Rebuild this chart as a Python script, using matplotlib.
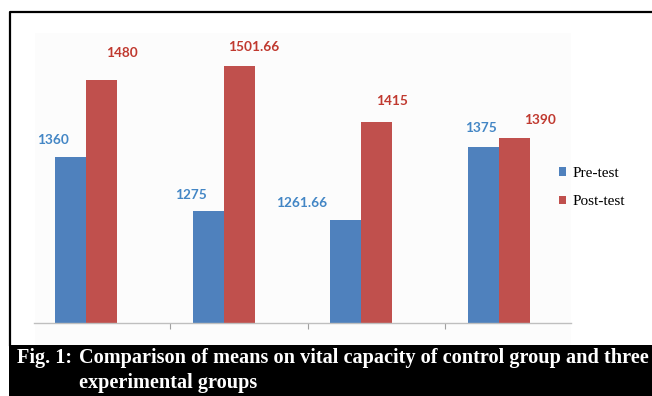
import numpy as np
import matplotlib.pyplot as plt
from matplotlib.patches import Rectangle
from matplotlib.lines import Line2D

# data
groups = ["Control", "Exp. 1", "Exp. 2", "Exp. 3"]
pre_test = [1360, 1275, 1261.66, 1375]
post_test = [1480, 1501.66, 1415, 1390]
pre_labels = ["1360", "1275", "1261.66", "1375"]
post_labels = ["1480", "1501.66", "1415", "1390"]

# label offsets (pixels) from the top of each bar
pre_off = [(-18, 17), (-17, 16), (-44, 17), (-3, 19)]
post_off = [(20, 27), (15, 19), (15, 21), (26, 18)]

W, H = 652, 396
blue = "#4F81BD"
red = "#C0504D"

fig = plt.figure(figsize=(W / 100, H / 100), dpi=100)

def fx(px):
    return px / W

def fy(py):
    return 1 - py / H

# faint plot-area background
fig.patches.append(Rectangle((fx(35), fy(345)), fx(571) - fx(35), fy(33) - fy(345),
                             transform=fig.transFigure, facecolor="#FCFCFC",
                             edgecolor="none", zorder=-5))

ax = fig.add_axes([fx(34), fy(323), fx(571) - fx(34), fy(33) - fy(323)])
ax.set_zorder(2)
ax.patch.set_alpha(0)

x = np.arange(len(groups))
w = 0.225
b1 = ax.bar(x - w / 2, pre_test, w, color=blue, label="Pre-test")
b2 = ax.bar(x + w / 2, post_test, w, color=red, label="Post-test")

ax.set_xlim(-0.378, 3.523)
ax.set_ylim(1100, 1554)

for s in ["top", "left", "right"]:
    ax.spines[s].set_visible(False)
ax.spines["bottom"].set_color("#BFBFBF")
ax.spines["bottom"].set_linewidth(1)
ax.set_yticks([])
ax.set_xticks([0.61, 1.61, 2.61])
ax.set_xticklabels([])
ax.tick_params(axis="x", direction="out", length=4, color="#A0A0A0", width=0.8)

for i in range(len(groups)):
    ax.annotate(pre_labels[i], (x[i] - w / 2, pre_test[i]), xytext=pre_off[i],
                textcoords="offset pixels", ha="center", va="center",
                fontsize=9.8, fontweight="bold", color="#4386C5", family="Lato")
    ax.annotate(post_labels[i], (x[i] + w / 2, post_test[i]), xytext=post_off[i],
                textcoords="offset pixels", ha="center", va="center",
                fontsize=9.8, fontweight="bold", color="#C0392F", family="Lato")

leg = ax.legend(loc="upper left", bbox_to_anchor=(fx(559), fy(167)),
                bbox_transform=fig.transFigure, frameon=False, borderpad=0,
                borderaxespad=0, handlelength=0.45, handleheight=0.45,
                handletextpad=0.45, labelspacing=1.0,
                prop={"family": "Liberation Serif", "size": 11})

# outer frame
fig.lines.append(Line2D([fx(10), fx(10), fx(652)], [fy(345), fy(12), fy(12)],
                        transform=fig.transFigure, color="black", lw=1.6))

# caption box
fig.patches.append(Rectangle((fx(9), 0), 1 - fx(9), fy(345),
                             transform=fig.transFigure, facecolor="black",
                             edgecolor="none", zorder=3))
cap = dict(color="white", fontweight="bold", family="Liberation Serif",
           fontsize=14.55, va="center", ha="left", zorder=4)
fig.text(fx(17), fy(358), "Fig. 1:", **cap)
fig.text(fx(79), fy(358), "Comparison of means on vital capacity of control group and three", **cap)
fig.text(fx(79), fy(383), "experimental groups", **cap)

fig.savefig("out.png", dpi=100)
